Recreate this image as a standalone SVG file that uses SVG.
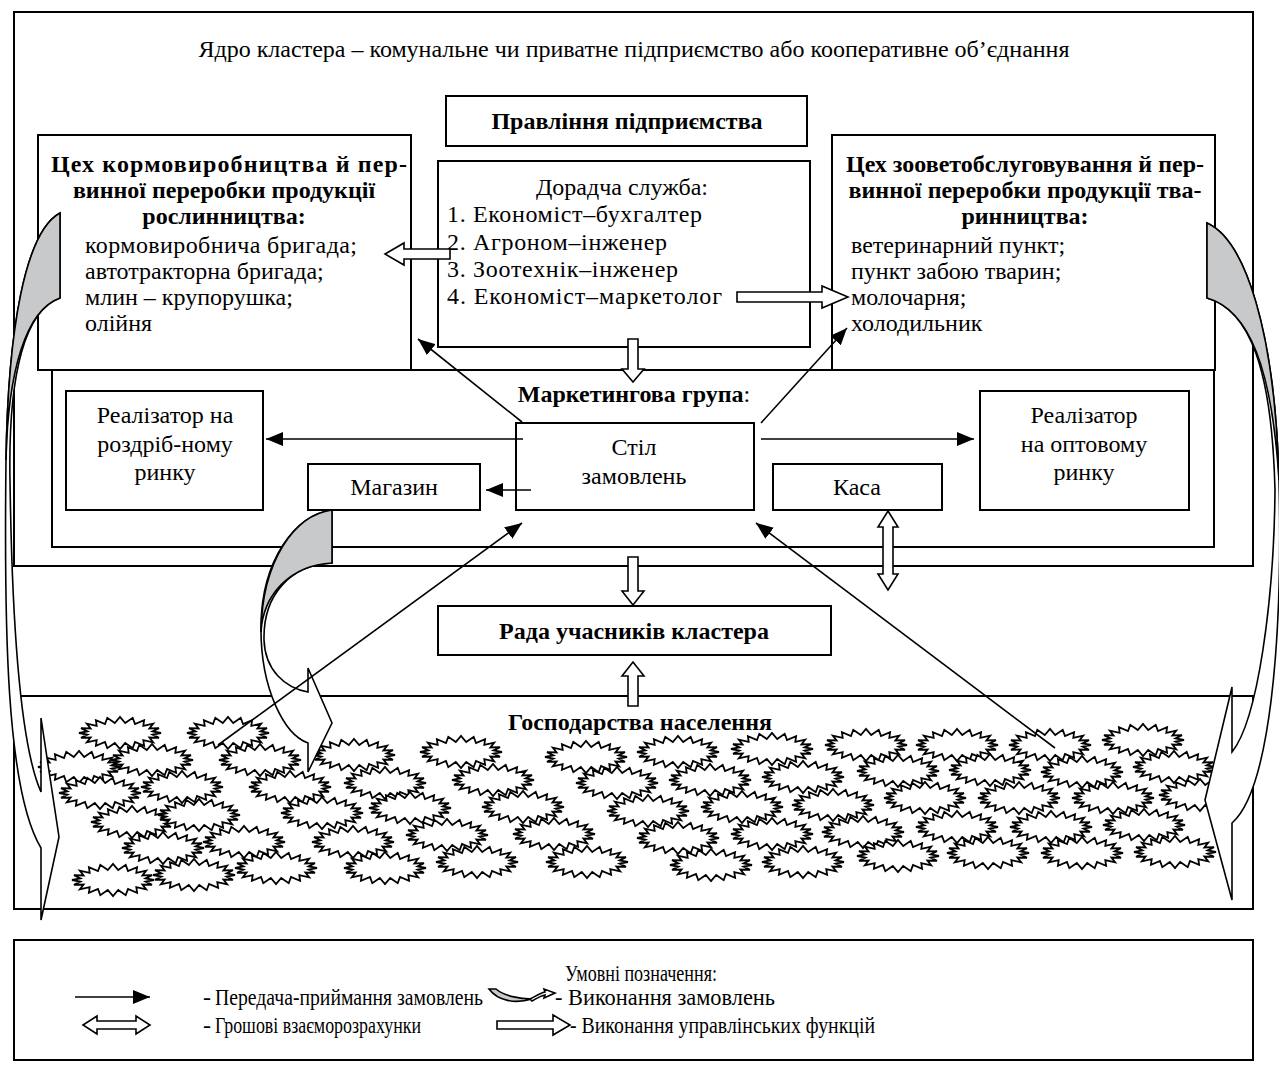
<svg xmlns="http://www.w3.org/2000/svg" xmlns:xlink="http://www.w3.org/1999/xlink" width="1279" height="1075" viewBox="0 0 1279 1075" font-family="Liberation Serif, DejaVu Serif, serif">
<defs>
<style>
.box{fill:#fff;stroke:#000;stroke-width:2}
.nb{fill:none;stroke:#000;stroke-width:2}
.t{font-family:'Liberation Serif','DejaVu Serif',serif;font-size:24px;fill:#000}
.b{font-weight:bold}
.m{text-anchor:middle}
.ln{stroke:#000;stroke-width:1.6;fill:none}
.blk{fill:#fff;stroke:#000;stroke-width:1.6;stroke-linejoin:miter}
.cw{fill:#fff;stroke:#000;stroke-width:1.6}
.cg{fill:#c8c9cb;stroke:#000;stroke-width:1.6}
.lg{font-family:'Liberation Serif','DejaVu Serif',serif;font-size:24px;fill:#000}
</style>
<marker id="ah" markerWidth="18" markerHeight="14" refX="17" refY="7" orient="auto" markerUnits="userSpaceOnUse"><path d="M0,0 L17,7 L0,14 Z" fill="#000"/></marker>
<path id="star" fill="#fff" stroke="#000" stroke-width="1.8" d="M41,0 L32.6,1.6 39,4.9 29.4,4.5 33.2,9.4 23.3,7.1 24.1,12.9 15,8.9 12.7,15.2 5.2,9.9 0,16 -5.2,9.9 -12.7,15.2 -15,8.9 -24.1,12.9 -23.3,7.1 -33.2,9.4 -29.4,4.5 -39,4.9 -32.6,1.6 -41,0 -32.6,-1.6 -39,-4.9 -29.4,-4.5 -33.2,-9.4 -23.3,-7.1 -24.1,-12.9 -15,-8.9 -12.7,-15.2 -5.2,-9.9 0,-16 5.2,-9.9 12.7,-15.2 15,-8.9 24.1,-12.9 23.3,-7.1 33.2,-9.4 29.4,-4.5 39,-4.9 32.6,-1.6 Z"/>
</defs>
<rect width="1279" height="1075" fill="#fff"/>

<g id="core">
<rect class="box" x="14" y="12" width="1239" height="554"/>
<text class="t m" x="634" y="57">Ядро кластера – комунальне чи приватне підприємство або кооперативне об’єднання</text>
</g>

<g id="management">
<rect class="box" x="446" y="96" width="361" height="50"/>
<text class="t b m" x="627" y="129">Правління підприємства</text>
</g>

<g id="advisory">
<rect class="box" x="438" y="161" width="372" height="186"/>
<text class="t m" x="622" y="195">Дорадча служба:</text>
<text class="t" x="447" y="222" textLength="255">1. Економіст–бухгалтер</text>
<text class="t" x="447" y="250" textLength="220">2. Агроном–інженер</text>
<text class="t" x="447" y="277" textLength="231">3. Зоотехнік–інженер</text>
<text class="t" x="447" y="304" textLength="275">4. Економіст–маркетолог</text>
</g>

<g id="plant-shop">
<rect class="box" x="38" y="135" width="373" height="235"/>
<text class="t b" x="51" y="172" textLength="356">Цех кормовиробництва й пер-</text>
<text class="t b m" x="224" y="198">винної переробки продукції</text>
<text class="t b m" x="224" y="224">рослинництва:</text>
<text class="t" x="85" y="253" textLength="272">кормовиробнича бригада;</text>
<text class="t" x="85" y="279">автотракторна бригада;</text>
<text class="t" x="85" y="305">млин – крупорушка;</text>
<text class="t" x="85" y="331">олійня</text>
</g>

<g id="animal-shop">
<rect class="box" x="832" y="135" width="383" height="235"/>
<text class="t b m" x="1025" y="172">Цех зооветобслуговування й пер-</text>
<text class="t b m" x="1025" y="198">винної переробки продукції тва-</text>
<text class="t b m" x="1025" y="224">ринництва:</text>
<text class="t" x="851" y="253">ветеринарний пункт;</text>
<text class="t" x="851" y="279">пункт забою тварин;</text>
<text class="t" x="851" y="305">молочарня;</text>
<text class="t" x="851" y="331">холодильник</text>
</g>

<g id="marketing">
<rect class="nb" x="52" y="370" width="1162" height="177"/>
<text class="t m" x="634" y="402"><tspan class="b">Маркетингова група</tspan>:</text>
</g>

<g id="orders-desk">
<rect class="box" x="516" y="423" width="238" height="87"/>
<text class="t m" x="634" y="455">Стіл</text>
<text class="t m" x="634" y="484">замовлень</text>
</g>

<g id="retail-seller">
<rect class="box" x="66" y="391" width="197" height="119"/>
<text class="t m" x="165" y="423">Реалізатор на</text>
<text class="t m" x="165" y="452">роздріб-ному</text>
<text class="t m" x="165" y="480">ринку</text>
</g>

<g id="shop">
<rect class="box" x="308" y="464" width="172" height="46"/>
<text class="t m" x="394" y="495">Магазин</text>
</g>

<g id="cashier">
<rect class="box" x="773" y="464" width="169" height="46"/>
<text class="t m" x="857" y="495">Каса</text>
</g>

<g id="wholesale-seller">
<rect class="box" x="980" y="391" width="209" height="119"/>
<text class="t m" x="1084" y="423">Реалізатор</text>
<text class="t m" x="1084" y="452">на оптовому</text>
<text class="t m" x="1084" y="480">ринку</text>
</g>

<g id="council">
<rect class="box" x="438" y="606" width="393" height="49"/>
<text class="t b m" x="634" y="639">Рада учасників кластера</text>
</g>

<g id="households">
<rect class="box" x="14" y="696" width="1239" height="213"/>
<text class="t b m" x="640" y="730">Господарства населення</text>
<g id="stars">
<use xlink:href="#star" x="120" y="733"/><use xlink:href="#star" x="228" y="733"/><use xlink:href="#star" x="354" y="755"/><use xlink:href="#star" x="461" y="752"/><use xlink:href="#star" x="586" y="757"/><use xlink:href="#star" x="678" y="752"/><use xlink:href="#star" x="772" y="749"/><use xlink:href="#star" x="866" y="745"/><use xlink:href="#star" x="957" y="745"/><use xlink:href="#star" x="1050" y="745"/><use xlink:href="#star" x="1143" y="740"/>
<use xlink:href="#star" x="79" y="767"/><use xlink:href="#star" x="152" y="760"/><use xlink:href="#star" x="260" y="760"/><use xlink:href="#star" x="385" y="783"/><use xlink:href="#star" x="493" y="780"/><use xlink:href="#star" x="617" y="783"/><use xlink:href="#star" x="710" y="780"/><use xlink:href="#star" x="803" y="777"/><use xlink:href="#star" x="898" y="771"/><use xlink:href="#star" x="990" y="770"/><use xlink:href="#star" x="1082" y="772"/><use xlink:href="#star" x="1174" y="767"/>
<use xlink:href="#star" x="100" y="793"/><use xlink:href="#star" x="182" y="787"/><use xlink:href="#star" x="290" y="787"/><use xlink:href="#star" x="410" y="808"/><use xlink:href="#star" x="523" y="807"/><use xlink:href="#star" x="648" y="811"/><use xlink:href="#star" x="742" y="807"/><use xlink:href="#star" x="833" y="805"/><use xlink:href="#star" x="925" y="798"/><use xlink:href="#star" x="1019" y="798"/><use xlink:href="#star" x="1113" y="798"/><use xlink:href="#star" x="1200" y="795"/>
<use xlink:href="#star" x="132" y="822"/><use xlink:href="#star" x="199" y="815"/><use xlink:href="#star" x="322" y="813"/><use xlink:href="#star" x="447" y="835"/><use xlink:href="#star" x="554" y="834"/><use xlink:href="#star" x="678" y="838"/><use xlink:href="#star" x="772" y="834"/><use xlink:href="#star" x="863" y="832"/><use xlink:href="#star" x="957" y="827"/><use xlink:href="#star" x="1051" y="827"/><use xlink:href="#star" x="1144" y="825"/>
<use xlink:href="#star" x="163" y="848"/><use xlink:href="#star" x="244" y="842"/><use xlink:href="#star" x="353" y="842"/><use xlink:href="#star" x="477" y="862"/><use xlink:href="#star" x="587" y="862"/><use xlink:href="#star" x="711" y="865"/><use xlink:href="#star" x="803" y="862"/><use xlink:href="#star" x="898" y="856"/><use xlink:href="#star" x="988" y="853"/><use xlink:href="#star" x="1082" y="853"/><use xlink:href="#star" x="1175" y="852"/>
<use xlink:href="#star" x="113" y="880"/><use xlink:href="#star" x="194" y="875"/><use xlink:href="#star" x="276" y="868"/><use xlink:href="#star" x="385" y="868"/>
</g>
</g>

<g id="connectors">
<path class="cw" d="M60,213 C25,232 8,330 6,460 C4,625 6,790 41,848 L41,920 L59,837 L41,718 L41,792 C20,745 12,625 10,480 C8,370 26,310 60,298 Z"/>
<path class="cg" d="M60,213 C25,232 8,330 6,460 C8,370 26,310 60,298 Z"/>
<path class="cw" d="M1207,223 C1245,240 1275,330 1279,480 C1283,640 1270,790 1232,823 L1232,900 L1205,800 L1232,687 L1232,752 C1258,720 1274,600 1275,490 C1272,370 1250,310 1207,298 Z"/>
<path class="cg" d="M1207,223 C1245,240 1275,330 1279,480 C1272,370 1250,310 1207,298 Z"/>
<path class="cw" d="M332,510 C295,515 262,560 261,625 C260,690 285,735 308,743 L308,772 L332,723 L308,668 L308,692 C285,688 265,670 264,640 C263,595 290,565 332,563 Z"/>
<path class="cg" d="M332,510 C295,515 262,560 261,632 C263,595 290,565 332,563 Z"/>
<line class="ln" x1="523" y1="439" x2="266" y2="439" marker-end="url(#ah)"/>
<line class="ln" x1="531" y1="490" x2="486" y2="490" marker-end="url(#ah)"/>
<line class="ln" x1="761" y1="439" x2="974" y2="439" marker-end="url(#ah)"/>
<line class="ln" x1="522" y1="422" x2="418" y2="339" marker-end="url(#ah)"/>
<line class="ln" x1="761" y1="423" x2="847" y2="328" marker-end="url(#ah)"/>
<line class="ln" x1="218" y1="745" x2="522" y2="523" marker-end="url(#ah)"/>
<line class="ln" x1="1055" y1="748" x2="756" y2="523" marker-end="url(#ah)"/>
<polygon class="blk" points="450,249 404,249 404,243 385,254 404,265 404,259 450,259"/>
<polygon class="blk" points="737,292 822,292 822,286 848,297 822,308 822,302 737,302"/>
<polygon class="blk" points="628,339 638,339 638,369 644,369 633,382 622,369 628,369"/>
<polygon class="blk" points="628,557 638,557 638,591 644,591 633,605 622,591 628,591"/>
<polygon class="blk" points="628,706 638,706 638,676 644,676 633,662 622,676 628,676"/>
<polygon class="blk" points="888,511 898,527 893,527 893,574 898,574 888,590 878,574 883,574 883,527 878,527"/>
</g>

<g id="legend">
<rect class="box" x="14" y="940" width="1239" height="120"/>
<text class="lg m" x="641" y="981" textLength="152" lengthAdjust="spacingAndGlyphs">Умовні позначення:</text>
<line class="ln" x1="75" y1="997" x2="150" y2="997" marker-end="url(#ah)"/>
<text class="lg" x="203" y="1005">-</text>
<text class="lg" x="215" y="1005" textLength="268" lengthAdjust="spacingAndGlyphs">Передача-приймання  замовлень</text>
<path class="cg" d="M489,989 C498,1001 515,1004 532,999 C520,999 504,996 496,989 Z" stroke-width="1.2"/>
<path class="cw" stroke-width="1.2" d="M530,999 C536,996 540,993 545,992 L544,989 L555,993 L544,998 L545,995 C541,996 537,998 532,1001 Z"/>
<text class="lg" x="555" y="1005" textLength="220" lengthAdjust="spacingAndGlyphs">- Виконання замовлень</text>
<polygon class="blk" points="83,1025 97,1016 97,1021 136,1021 136,1016 150,1025 136,1034 136,1029 97,1029 97,1034"/>
<text class="lg" x="203" y="1033">-</text>
<text class="lg" x="215" y="1033" textLength="206" lengthAdjust="spacingAndGlyphs">Грошові взаєморозрахунки</text>
<polygon class="blk" points="497,1021 553,1021 553,1015 570,1025 553,1035 553,1029 497,1029"/>
<text class="lg" x="570" y="1033" textLength="305" lengthAdjust="spacingAndGlyphs">- Виконання управлінських функцій</text>
</g>
</svg>
